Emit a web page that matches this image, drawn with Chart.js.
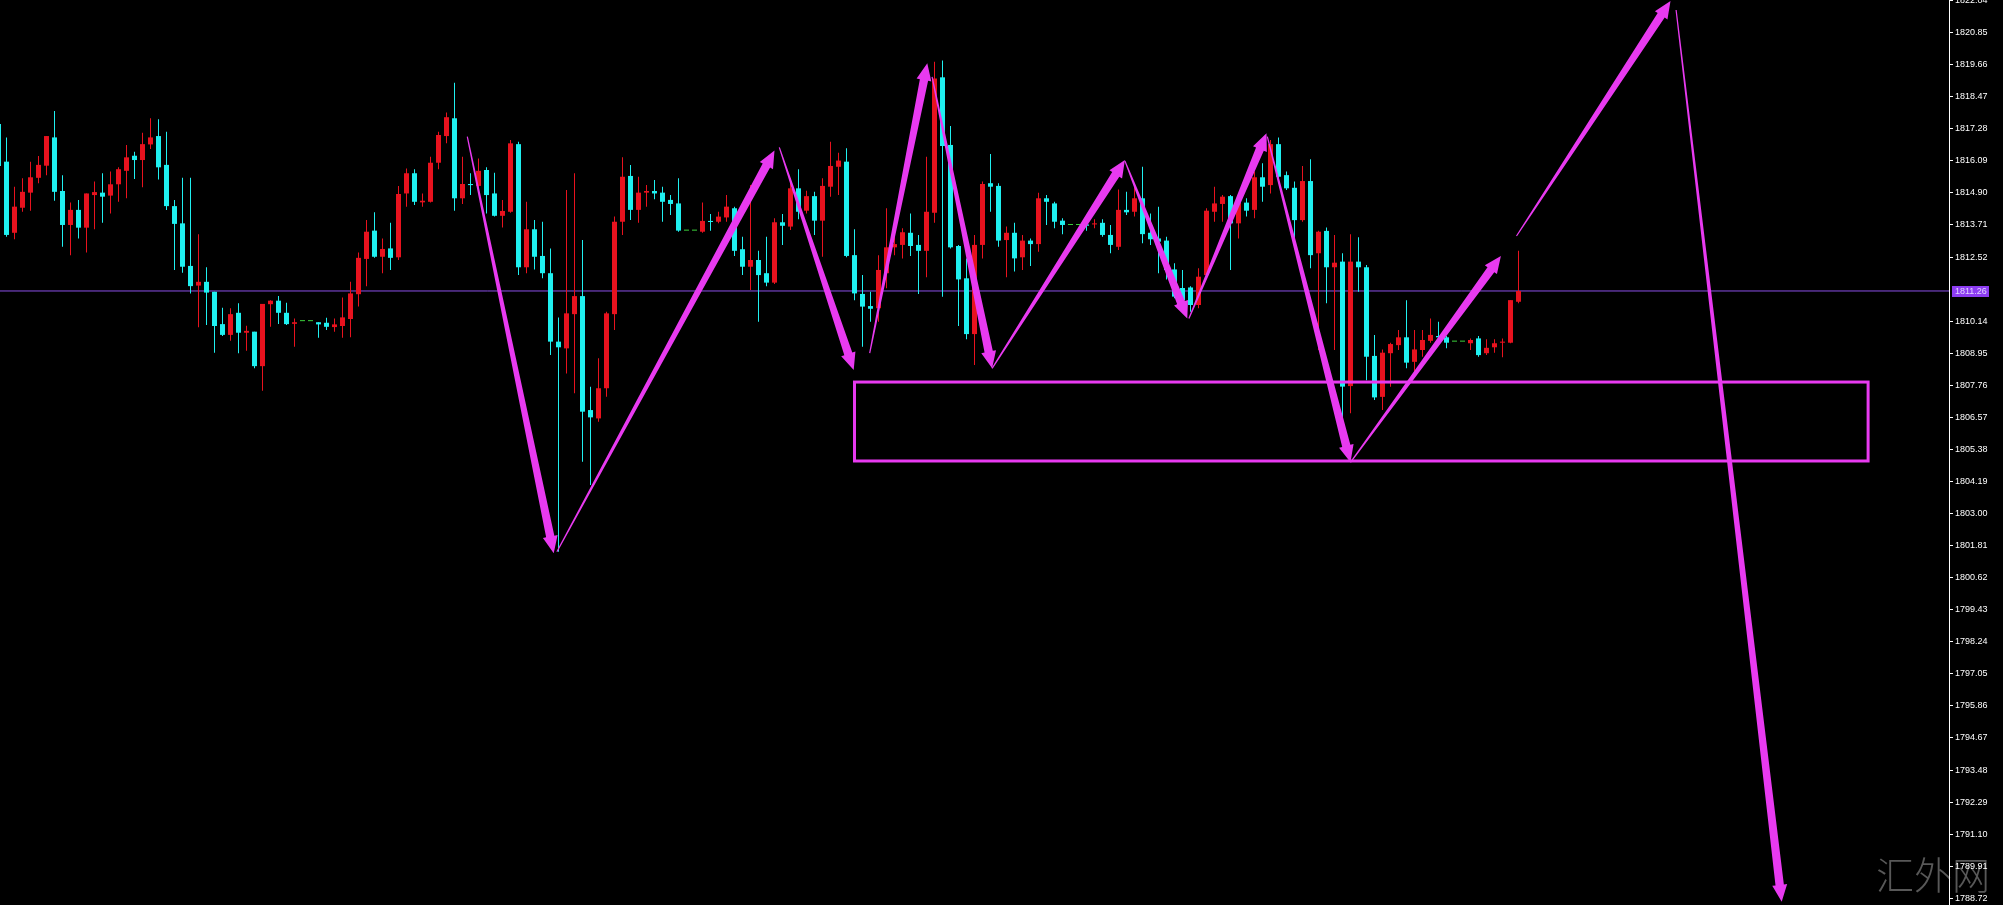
<!DOCTYPE html>
<html>
<head>
<meta charset="utf-8">
<title>XAUUSD M5</title>
<style>
  html, body { margin: 0; padding: 0; background: #000; overflow: hidden; }
  #chart_wrap { width: 2003px; height: 905px; }
</style>
</head>
<body>
<div id="chart_wrap"><canvas id="chart_xau" width="2003" height="905" style="width:2003px;height:905px"></canvas></div>
<script src="https://cdn.jsdelivr.net/npm/chart.js@4.4.1/dist/chart.umd.min.js"></script>
<script>
// ! Data (bar index starts at -1, the half hidden candle on the left edge)
const firstBar = -1;

const opens = [
  1817.46, 1816.06, 1813.42, 1814.35, 1814.91, 1815.46, 1815.91, 1816.96, 1814.97, 1813.71,
  1814.27, 1813.61, 1814.82, 1814.91, 1814.80, 1815.22, 1815.72, 1816.28, 1816.12, 1816.70,
  1817.01, 1815.94, 1814.41, 1813.77, 1812.19, 1811.46, 1811.60, 1811.23, 1810.03, 1809.63,
  1810.45, 1809.71, 1809.75, 1808.47, 1810.77, 1810.90, 1810.45, 1810.04, 1810.14, 1810.14,
  1810.10, 1810.08, 1809.92, 1809.96, 1810.22, 1811.14, 1812.45, 1813.50, 1812.53, 1812.84,
  1812.51, 1814.88, 1815.63, 1814.55, 1814.57, 1816.02, 1817.01, 1817.67, 1814.70, 1815.23,
  1815.16, 1815.75, 1814.88, 1814.05, 1814.20, 1816.71, 1812.14, 1813.55, 1812.56, 1811.92,
  1809.38, 1809.13, 1810.40, 1811.07, 1806.84, 1806.53, 1807.65, 1810.40, 1813.83, 1815.53,
  1814.27, 1814.91, 1814.97, 1814.91, 1814.64, 1814.51, 1813.50, 1813.50, 1813.46, 1813.86,
  1813.83, 1813.99, 1814.33, 1812.81, 1812.16, 1812.41, 1811.92, 1811.57, 1813.81, 1813.65,
  1815.07, 1814.24, 1814.78, 1813.87, 1815.13, 1815.87, 1816.06, 1812.59, 1811.15, 1810.70,
  1810.62, 1811.92, 1812.88, 1812.97, 1813.42, 1812.97, 1812.75, 1814.16, 1819.19, 1816.68,
  1812.93, 1811.73, 1809.66, 1812.97, 1815.26, 1815.16, 1813.15, 1813.42, 1812.51, 1813.13,
  1813.00, 1814.70, 1814.51, 1813.87, 1813.71, 1813.71, 1813.73, 1813.73, 1813.79, 1813.34,
  1812.90, 1814.27, 1814.20, 1814.70, 1813.42, 1813.21, 1813.13, 1812.06, 1811.37, 1811.39,
  1810.74, 1811.85, 1814.20, 1814.49, 1814.78, 1813.77, 1814.54, 1814.27, 1815.48, 1815.19,
  1816.71, 1815.56, 1815.09, 1813.89, 1815.34, 1812.66, 1813.49, 1812.14, 1812.35, 1807.73,
  1812.35, 1812.14, 1808.85, 1807.33, 1808.95, 1809.25, 1809.54, 1808.63, 1809.07, 1809.41,
  1809.59, 1809.54, 1809.38, 1809.38, 1809.32, 1809.50, 1808.95, 1809.17, 1809.34, 1809.34,
  1810.86,
];

const highs = [
  1817.98, 1816.96, 1815.13, 1815.44, 1816.06, 1816.27, 1817.01, 1817.94, 1815.56, 1814.54,
  1814.64, 1814.88, 1815.32, 1815.63, 1815.69, 1815.85, 1816.68, 1816.43, 1817.13, 1817.67,
  1817.63, 1817.17, 1814.64, 1815.46, 1815.46, 1813.37, 1812.14, 1811.23, 1810.64, 1810.62,
  1810.80, 1809.97, 1809.75, 1810.78, 1810.92, 1811.07, 1810.82, 1810.24, 1810.14, 1810.14,
  1810.10, 1810.27, 1810.24, 1811.02, 1811.60, 1812.69, 1813.89, 1814.18, 1813.21, 1813.79,
  1815.16, 1815.81, 1815.78, 1814.88, 1816.24, 1817.17, 1817.88, 1818.99, 1816.24, 1815.63,
  1816.18, 1815.85, 1815.65, 1814.64, 1816.86, 1816.80, 1814.57, 1813.89, 1813.83, 1812.84,
  1810.28, 1815.01, 1815.63, 1813.15, 1807.71, 1808.76, 1810.49, 1814.02, 1816.22, 1815.94,
  1815.50, 1815.19, 1815.38, 1815.13, 1814.82, 1815.44, 1813.50, 1813.50, 1814.54, 1814.12,
  1814.20, 1814.82, 1814.39, 1813.27, 1815.19, 1812.75, 1813.27, 1813.96, 1814.12, 1815.44,
  1815.78, 1814.98, 1814.94, 1815.44, 1816.80, 1816.39, 1816.56, 1813.55, 1811.85, 1811.23,
  1812.59, 1814.33, 1813.46, 1813.59, 1814.14, 1813.34, 1816.24, 1819.77, 1819.81, 1817.38,
  1812.97, 1812.47, 1813.34, 1815.32, 1816.34, 1815.26, 1813.65, 1813.79, 1813.34, 1813.21,
  1814.91, 1814.82, 1814.57, 1813.96, 1813.71, 1813.71, 1813.79, 1813.92, 1813.92, 1813.71,
  1815.03, 1814.94, 1815.23, 1815.87, 1814.14, 1814.39, 1813.27, 1812.29, 1812.04, 1811.44,
  1812.10, 1814.33, 1815.13, 1814.82, 1814.82, 1814.76, 1814.70, 1815.69, 1816.00, 1816.86,
  1816.96, 1815.69, 1815.32, 1815.90, 1816.15, 1813.50, 1813.62, 1813.34, 1812.66, 1813.37,
  1813.25, 1812.22, 1809.63, 1809.09, 1809.34, 1809.81, 1810.92, 1809.81, 1809.81, 1810.24,
  1810.12, 1809.59, 1809.38, 1809.38, 1809.50, 1809.59, 1809.47, 1809.47, 1809.50, 1810.92,
  1812.75,
];

const lows = [
  1815.68, 1813.27, 1813.18, 1814.20, 1814.24, 1815.26, 1815.56, 1814.61, 1812.90, 1812.59,
  1813.21, 1812.69, 1813.55, 1813.79, 1814.14, 1814.57, 1814.70, 1815.42, 1815.11, 1816.53,
  1815.40, 1814.27, 1812.04, 1811.94, 1811.17, 1809.91, 1810.00, 1808.97, 1809.59, 1809.41,
  1808.95, 1809.04, 1808.39, 1807.56, 1809.93, 1810.03, 1810.00, 1809.19, 1810.14, 1810.14,
  1809.52, 1809.81, 1809.75, 1809.52, 1809.54, 1810.68, 1811.44, 1812.49, 1811.92, 1812.04,
  1812.41, 1814.39, 1814.45, 1814.39, 1814.54, 1815.78, 1816.74, 1814.24, 1814.49, 1814.82,
  1815.07, 1814.14, 1814.02, 1813.62, 1814.16, 1811.85, 1811.92, 1812.06, 1811.73, 1808.88,
  1801.58, 1808.20, 1807.46, 1804.92, 1804.06, 1806.41, 1807.33, 1809.81, 1813.34, 1813.89,
  1813.79, 1814.39, 1814.66, 1813.83, 1814.08, 1813.46, 1813.50, 1813.50, 1813.42, 1813.50,
  1813.77, 1813.83, 1812.56, 1811.85, 1811.30, 1810.12, 1811.44, 1811.52, 1812.97, 1813.52,
  1813.92, 1814.14, 1813.34, 1812.53, 1814.76, 1814.82, 1812.51, 1810.92, 1809.19, 1810.12,
  1810.12, 1811.36, 1812.59, 1812.47, 1812.56, 1811.15, 1811.77, 1813.79, 1811.05, 1812.84,
  1809.96, 1809.47, 1808.51, 1812.47, 1814.20, 1812.90, 1811.77, 1811.98, 1812.04, 1812.19,
  1812.72, 1813.71, 1813.59, 1813.37, 1813.71, 1813.71, 1813.50, 1813.59, 1813.27, 1812.66,
  1812.78, 1814.08, 1814.02, 1813.03, 1812.97, 1811.92, 1811.69, 1810.99, 1810.68, 1810.49,
  1810.62, 1811.74, 1813.83, 1813.83, 1812.04, 1813.21, 1814.02, 1813.96, 1814.57, 1814.88,
  1815.44, 1815.01, 1813.21, 1813.83, 1812.10, 1809.07, 1810.80, 1809.07, 1806.30, 1806.72,
  1811.23, 1807.95, 1807.21, 1806.84, 1807.71, 1809.07, 1808.39, 1808.20, 1808.82, 1809.34,
  1809.38, 1809.13, 1809.38, 1809.38, 1809.07, 1808.82, 1808.88, 1808.97, 1808.80, 1809.32,
  1810.80,
];

const closes = [
  1815.90, 1813.34, 1814.39, 1814.94, 1815.48, 1815.94, 1817.01, 1814.94, 1813.71, 1814.27,
  1813.61, 1814.88, 1814.93, 1814.76, 1815.22, 1815.78, 1816.22, 1816.12, 1816.71, 1816.96,
  1815.85, 1814.41, 1813.75, 1812.16, 1811.44, 1811.60, 1811.20, 1809.96, 1809.63, 1810.40,
  1809.71, 1809.78, 1808.47, 1810.78, 1810.90, 1810.45, 1810.03, 1810.10, 1810.14, 1810.14,
  1810.02, 1809.93, 1810.02, 1810.28, 1811.17, 1812.49, 1813.46, 1812.53, 1812.82, 1812.49,
  1814.86, 1815.63, 1814.57, 1814.61, 1816.02, 1817.05, 1817.71, 1814.70, 1815.23, 1815.19,
  1815.72, 1814.82, 1814.05, 1814.23, 1816.74, 1812.14, 1813.55, 1812.53, 1811.92, 1809.38,
  1809.17, 1810.43, 1811.07, 1806.78, 1806.57, 1807.65, 1810.43, 1813.83, 1815.50, 1814.27,
  1814.91, 1814.97, 1814.88, 1814.57, 1814.49, 1813.50, 1813.50, 1813.50, 1813.86, 1813.82,
  1814.02, 1814.39, 1812.75, 1812.16, 1812.41, 1811.85, 1811.57, 1813.81, 1813.68, 1815.07,
  1814.20, 1814.78, 1813.87, 1815.16, 1815.90, 1816.10, 1812.56, 1811.17, 1810.68, 1810.60,
  1812.04, 1812.88, 1813.00, 1813.44, 1812.93, 1812.75, 1814.20, 1819.15, 1816.64, 1812.88,
  1811.69, 1809.66, 1812.97, 1815.23, 1815.13, 1813.13, 1813.42, 1812.47, 1813.13, 1813.00,
  1814.70, 1814.57, 1813.83, 1813.71, 1813.71, 1813.71, 1813.68, 1813.77, 1813.34, 1812.97,
  1814.27, 1814.18, 1814.70, 1813.37, 1813.18, 1813.09, 1812.04, 1811.05, 1810.92, 1810.74,
  1811.79, 1814.24, 1814.51, 1814.76, 1813.77, 1814.54, 1814.24, 1815.48, 1815.13, 1816.71,
  1815.50, 1815.07, 1813.89, 1815.34, 1812.59, 1813.46, 1812.14, 1812.31, 1807.71, 1812.35,
  1812.14, 1808.82, 1807.31, 1808.97, 1809.29, 1809.54, 1808.60, 1809.09, 1809.44, 1809.63,
  1809.54, 1809.34, 1809.38, 1809.38, 1809.44, 1808.88, 1809.15, 1809.32, 1809.38, 1810.92,
  1811.26,
];

// price scale labels (1811.33 sits under the price tag, MT4 hides it)
const priceTicks = [
  1822.04, 1820.85, 1819.66, 1818.47, 1817.28, 1816.09, 1814.90, 1813.71, 1812.52,
  1810.14, 1808.95, 1807.76, 1806.57, 1805.38, 1804.19, 1803.00, 1801.81, 1800.62,
  1799.43, 1798.24, 1797.05, 1795.86, 1794.67, 1793.48, 1792.29, 1791.10, 1789.91, 1788.72,
];

const lastPrice = 1811.26;

// hand drawn arrows: [tail bar, tail price, tip bar, tip price]
const arrows = [
  [57.6, 1816.99, 68.4, 1801.53],
  [68.8, 1801.58, 96.0, 1816.47],
  [96.6, 1816.59, 105.9, 1808.33],
  [107.9, 1808.95, 115.1, 1819.71],
  [115.7, 1819.21, 123.2, 1808.39],
  [123.2, 1808.39, 139.8, 1816.12],
  [139.8, 1816.09, 147.6, 1810.24],
  [147.8, 1810.24, 157.5, 1817.11],
  [157.6, 1816.99, 168.0, 1804.9],
  [168.0, 1804.9, 186.8, 1812.56],
  [188.75, 1813.3, 208.0, 1822.02],
  [208.7, 1821.69, 221.9, 1788.59],
];

// support zone box
const zoneBars = [106.0, 232.7];
const zonePrices = [1804.95, 1807.88];

const watermark = "汇外网";

//! Style
const upColor = "#e8121e";
const downColor = "#1ff0f0";
const flatColor = "#3cd23c";
const penColor = "#e83af0";
const bidColor = "#8a4fe6";

const xMin = -0.8125;
const xMax = 242.8125;
const priceMin = 1788.47;
const priceMax = 1822.06;

const candleColor = (i) => {
  if (closes[i] > opens[i]) return upColor;
  if (closes[i] < opens[i]) return downColor;
  return flatColor;
};

let wickData = [];
let bodyData = [];
opens.forEach((o, i) => {
  wickData.push({ x: firstBar + i, y: [lows[i], highs[i]] });
  bodyData.push({ x: firstBar + i, y: [o, closes[i]] });
});

// ! Overlay : arrows, zone, price tag, watermark
const drawArrow = (ctx, x1, y1, x2, y2) => {
  let dx = x2 - x1;
  let dy = y2 - y1;
  let len = Math.hypot(dx, dy);
  let ux = dx / len;
  let uy = dy / len;
  let nx = -uy;
  let ny = ux;
  let headLen = 17;
  let headW = 7.5;
  let shaftW = 4.2;
  let tailW = 0.6;
  let bx = x2 - ux * headLen;
  let by = y2 - uy * headLen;
  ctx.beginPath();
  ctx.moveTo(x1 + nx * tailW, y1 + ny * tailW);
  ctx.lineTo(bx + nx * shaftW, by + ny * shaftW);
  ctx.lineTo(bx + nx * headW, by + ny * headW);
  ctx.lineTo(x2, y2);
  ctx.lineTo(bx - nx * headW, by - ny * headW);
  ctx.lineTo(bx - nx * shaftW, by - ny * shaftW);
  ctx.lineTo(x1 - nx * tailW, y1 - ny * tailW);
  ctx.closePath();
  ctx.fill();
};

const overlay = {
  id: "overlay",
  beforeDraw(chart) {
    let { ctx } = chart;
    // watermark sits under the axis labels
    ctx.save();
    ctx.fillStyle = "#585858";
    ctx.font = "300 38px 'Noto Sans CJK SC'";
    ctx.textBaseline = "alphabetic";
    ctx.textAlign = "left";
    ctx.fillText(watermark, 1876, 889);
    ctx.restore();
  },
  afterDatasetsDraw(chart) {
    let { ctx, chartArea, scales } = chart;
    let x = scales.x;
    let y = scales.y;
    ctx.save();
    ctx.beginPath();
    ctx.rect(chartArea.left, chartArea.top, chartArea.width, chartArea.height);
    ctx.clip();

    // zone
    ctx.strokeStyle = penColor;
    ctx.lineWidth = 3;
    let zx1 = x.getPixelForValue(zoneBars[0]);
    let zx2 = x.getPixelForValue(zoneBars[1]);
    let zy1 = y.getPixelForValue(zonePrices[1]);
    let zy2 = y.getPixelForValue(zonePrices[0]);
    ctx.strokeRect(zx1, zy1, zx2 - zx1, zy2 - zy1);

    // arrows
    ctx.fillStyle = penColor;
    arrows.forEach((a) => {
      drawArrow(
        ctx,
        x.getPixelForValue(a[0]),
        y.getPixelForValue(a[1]),
        x.getPixelForValue(a[2]),
        y.getPixelForValue(a[3])
      );
    });
    ctx.restore();
  },
  afterDraw(chart) {
    let { ctx, chartArea, scales } = chart;
    let py = Math.round(scales.y.getPixelForValue(lastPrice));
    ctx.save();
    // price tag
    ctx.fillStyle = "#8d3cf2";
    ctx.fillRect(chartArea.right + 3, py - 5, 37, 11);
    ctx.fillStyle = "#e2d4ff";
    ctx.font = "9px 'Liberation Sans'";
    ctx.textBaseline = "middle";
    ctx.textAlign = "left";
    ctx.fillText(lastPrice.toFixed(2), chartArea.right + 6, py + 0.5);
    ctx.restore();
  },
};

//! Chart
let chartXau = document.querySelector("#chart_xau");

new Chart(chartXau, {
  type: "bar",
  data: {
    datasets: [
      {
        type: "line",
        label: "bid",
        data: [
          { x: xMin, y: lastPrice },
          { x: xMax, y: lastPrice },
        ],
        borderColor: bidColor,
        borderWidth: 1,
        pointRadius: 0,
        order: 3,
      },
      {
        label: "wick",
        data: wickData,
        backgroundColor: (c) => candleColor(c.dataIndex),
        barThickness: 1,
        grouped: false,
        inflateAmount: 0,
        borderWidth: 0,
        order: 2,
      },
      {
        label: "body",
        data: bodyData,
        backgroundColor: (c) => candleColor(c.dataIndex),
        barThickness: 5,
        minBarLength: 1,
        grouped: false,
        inflateAmount: 0,
        borderWidth: 0,
        order: 1,
      },
    ],
  },
  options: {
    responsive: false,
    animation: false,
    events: [],
    layout: { padding: 0 },
    plugins: {
      legend: { display: false },
      tooltip: { enabled: false },
    },
    scales: {
      x: {
        type: "linear",
        min: xMin,
        max: xMax,
        offset: false,
        display: false,
      },
      y: {
        type: "linear",
        position: "right",
        min: priceMin,
        max: priceMax,
        beginAtZero: false,
        afterBuildTicks: (axis) => {
          axis.ticks = priceTicks.map((v) => ({ value: v }));
        },
        afterFit: (axis) => {
          axis.width = 54;
          axis.paddingTop = 0;
          axis.paddingBottom = 0;
        },
        border: { display: true, color: "#ffffff", width: 1 },
        grid: {
          drawOnChartArea: false,
          drawTicks: true,
          tickLength: 4,
          tickColor: "#ffffff",
          color: "#ffffff",
        },
        ticks: {
          color: "#ffffff",
          padding: 2,
          autoSkip: false,
          font: { family: "Liberation Sans", size: 9 },
          callback: (v) => Number(v).toFixed(2),
        },
      },
    },
  },
  plugins: [overlay],
});
</script>
</body>
</html>
